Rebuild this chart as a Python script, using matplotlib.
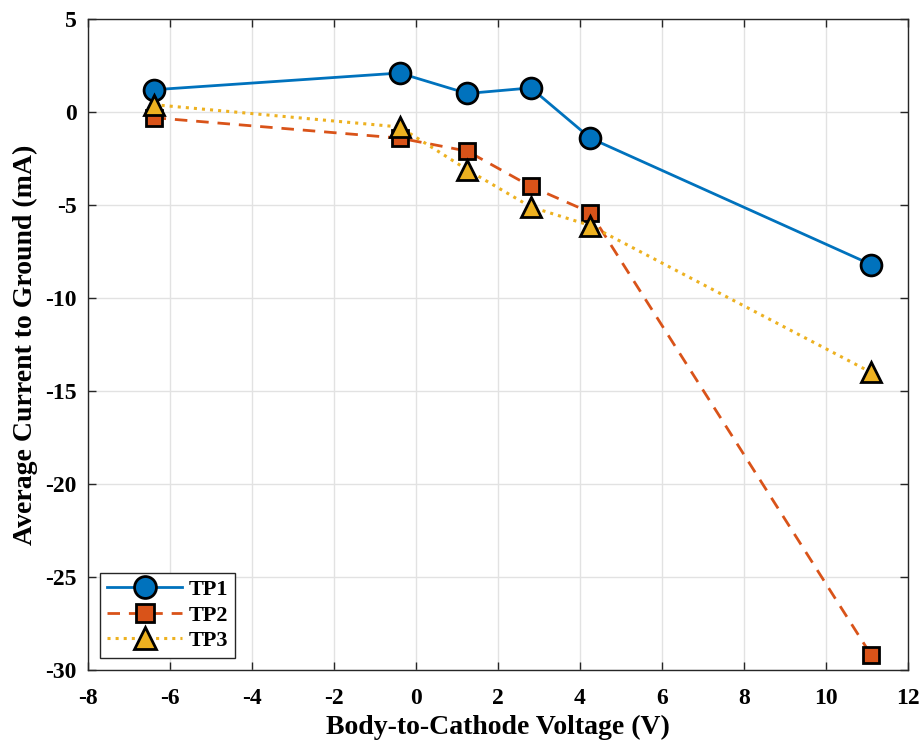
import matplotlib
matplotlib.use("Agg")
import matplotlib.pyplot as plt

x = [-6.4, -0.4, 1.25, 2.8, 4.25, 11.1]
tp1 = [1.2, 2.1, 1.0, 1.3, -1.4, -8.2]
tp2 = [-0.3, -1.4, -2.1, -4.0, -5.4, -29.2]
tp3 = [0.4, -0.8, -3.1, -5.1, -6.1, -14.0]
xticks = list(range(-8, 13, 2))
yticks = list(range(-30, 6, 5))

plt.rcParams['font.family'] = ['Liberation Serif', 'DejaVu Serif']
plt.rcParams['font.weight'] = 'bold'
plt.rcParams['axes.unicode_minus'] = False

fig = plt.figure(figsize=(9.21, 7.49), dpi=100)
ax = fig.add_axes([0.0955, 0.1055, 0.8905, 0.869])

ax.plot(x, tp1, '-o', color='#0072BD', lw=2.0, markersize=15, markerfacecolor='#0072BD',
        markeredgecolor='black', markeredgewidth=2, label='TP1', zorder=3)
ax.plot(x, tp2, '--s', color='#D95319', lw=2.0, markersize=12, markerfacecolor='#D95319',
        markeredgecolor='black', markeredgewidth=2, label='TP2', dashes=(4.5, 3.2), zorder=4)
ax.plot(x, tp3, ':^', color='#EDB120', lw=2.2, markersize=15, markerfacecolor='#EDB120',
        markeredgecolor='black', markeredgewidth=2, label='TP3', zorder=5)

ax.set_xlim(-8, 12)
ax.set_ylim(-30, 5)
ax.set_xticks(xticks)
ax.set_yticks(yticks)
ax.grid(True, color='#e2e2e2', lw=1)
ax.set_axisbelow(True)
ax.tick_params(direction='in', length=6, width=1, labelsize=17, top=True, right=True,
               labeltop=False, labelright=False, color='#262626')
ax.tick_params(axis='x', pad=13)
ax.tick_params(axis='y', pad=8)
for s in ax.spines.values():
    s.set_color('#262626')
    s.set_linewidth(1)
ax.set_xlabel('Body-to-Cathode Voltage (V)', fontsize=20, fontweight='bold', labelpad=4)
ax.set_ylabel('Average Current to Ground (mA)', fontsize=20, fontweight='bold', labelpad=5)

leg = ax.legend(loc='lower left', fontsize=16, fancybox=False, framealpha=1,
                edgecolor='#262626', borderaxespad=0.55, handlelength=3.4,
                handletextpad=0.3, labelspacing=0.22, borderpad=0.3, markerscale=1.05)
leg.get_frame().set_linewidth(1)

fig.savefig('out.png', dpi=100)
